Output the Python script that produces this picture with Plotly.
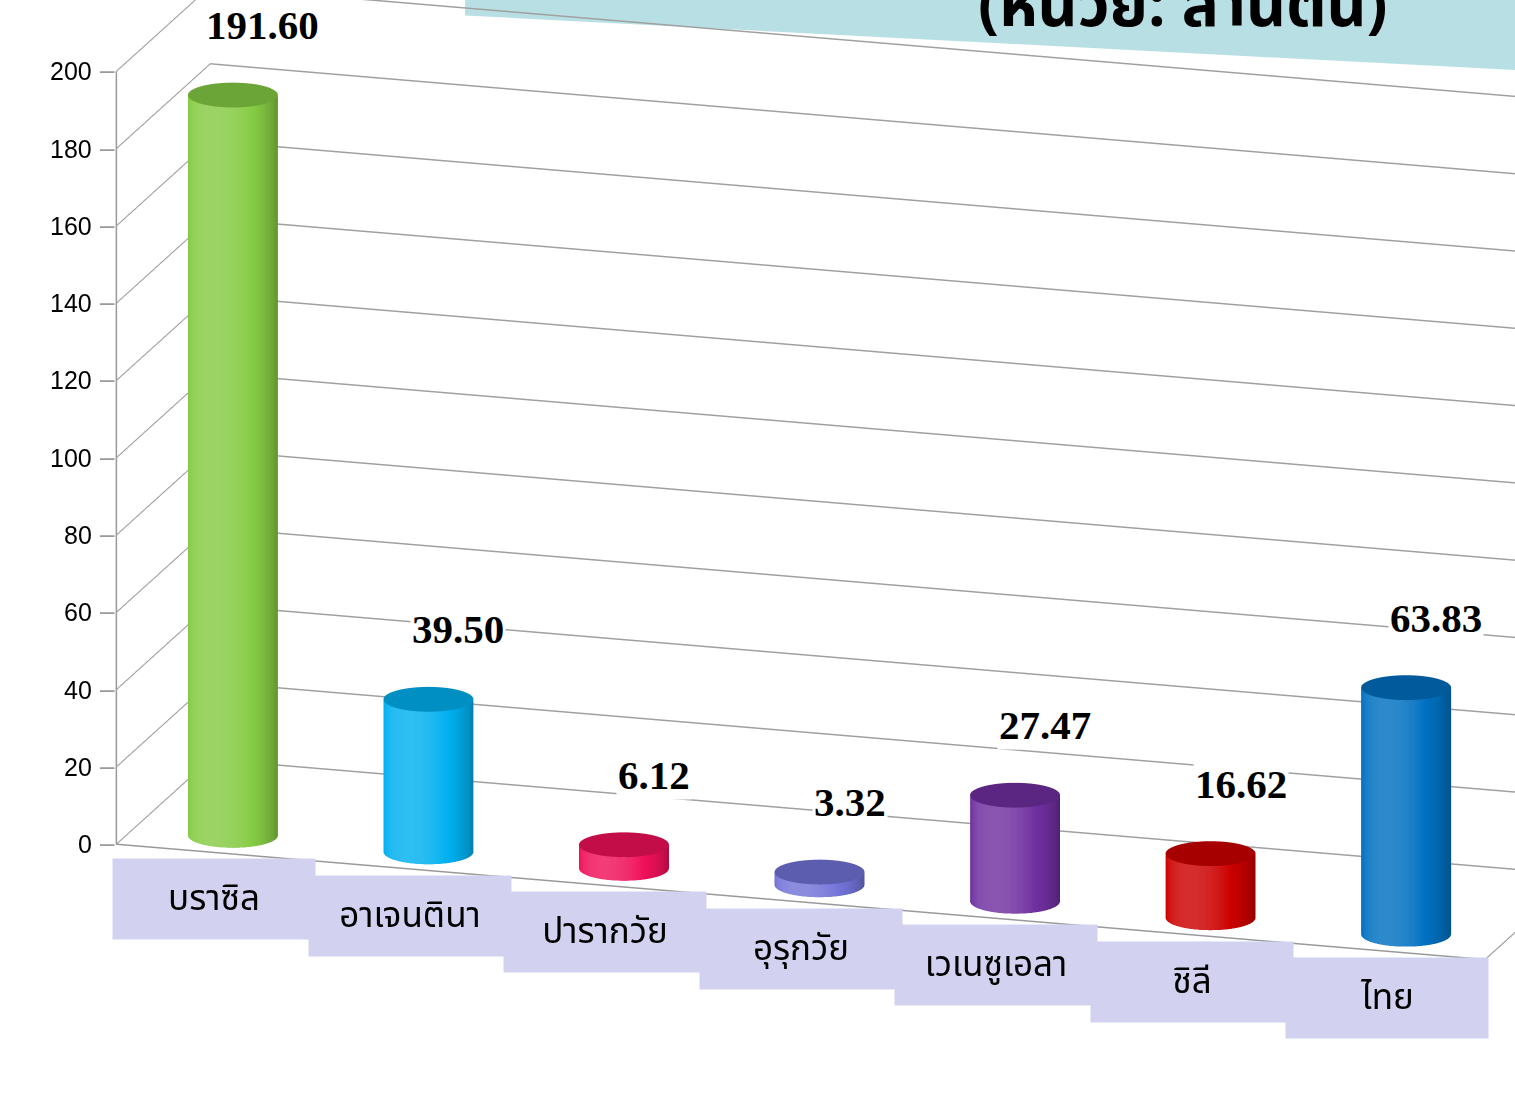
import numpy as np
import plotly.graph_objects as go

categories = ["บราซิล", "อาเจนตินา", "ปารากวัย", "อุรุกวัย", "เวเนซูเอลา", "ชิลี", "ไทย"]
values = [191.60, 39.50, 6.12, 3.32, 27.47, 16.62, 63.83]
value_labels = ["191.60", "39.50", "6.12", "3.32", "27.47", "16.62", "63.83"]
colors = ["#86cb44", "#00b0f0", "#f0105a", "#7373d8", "#7030a0", "#cc0000", "#0070c0"]
z_ticks = list(range(0, 201, 20))
title_text = "(หน่วย: ล้านตัน)"

THAI = "Noto Sans Thai, Tahoma, DejaVu Sans, Noto Sans, sans-serif"

AX, AY, AZ = 2.595, 0.583, 1.458
XR = [-0.5, 6.5]
YR = [-0.5, 0.5]
R = 0.22
RY = R * (AX / (XR[1] - XR[0])) / (AY / (YR[1] - YR[0]))
BAR_Y = -0.3


def hex_rgb(h):
    h = h.lstrip("#")
    return np.array([int(h[k:k + 2], 16) for k in (0, 2, 4)], dtype=float)


def shade(c, f):
    rgb = hex_rgb(c)
    if f <= 1:
        out = rgb * f
    else:
        out = rgb + (255 - rgb) * (f - 1)
    out = np.clip(out, 0, 255).astype(int)
    return f"rgb({out[0]},{out[1]},{out[2]})"


fig = go.Figure()
theta = np.linspace(0, 2 * np.pi, 90)
flat = dict(ambient=1.0, diffuse=0.0, specular=0.0, roughness=1.0, fresnel=0.0)
TH_HI = np.deg2rad(-100)
for i, (v, c) in enumerate(zip(values, colors)):
    cs = [[0, shade(c, 0.55)], [0.45, shade(c, 0.78)], [0.8, shade(c, 1.0)], [1, shade(c, 1.18)]]
    X = np.vstack([i + R * np.cos(theta)] * 2)
    Y = np.vstack([BAR_Y + RY * np.sin(theta)] * 2)
    Z = np.vstack([np.zeros_like(theta), np.full_like(theta, v)])
    b = (np.cos(theta - TH_HI) + 1) / 2
    S = np.vstack([b, b])
    fig.add_trace(go.Surface(x=X, y=Y, z=Z, surfacecolor=S, colorscale=cs, cmin=0, cmax=1,
                             showscale=False, lighting=flat, hoverinfo="skip"))
    rr = np.array([0, 1.0])
    Xc = i + np.outer(rr, R * np.cos(theta))
    Yc = BAR_Y + np.outer(rr, RY * np.sin(theta))
    Zc = np.full_like(Xc, v)
    fig.add_trace(go.Surface(x=Xc, y=Yc, z=Zc, surfacecolor=np.full_like(Zc, 0.5), colorscale=cs,
                             cmin=0, cmax=1, showscale=False, lighting=flat, hoverinfo="skip"))

ann = []
for t in z_ticks:
    ann.append(dict(x=XR[0], y=YR[0], z=t, text=str(t), showarrow=False,
                    font=dict(family="Liberation Sans, Arial, sans-serif", size=25, color="black"),
                    xanchor="right", yanchor="middle", xshift=-22))
    ann.append(dict(x=XR[0], y=YR[0], z=t, text="–", showarrow=False,
                    font=dict(family="Liberation Sans, Arial, sans-serif", size=26, color="#999999"),
                    xanchor="right", yanchor="middle", xshift=1, yshift=1))
for i, (v, lab) in enumerate(zip(values, value_labels)):
    ann.append(dict(x=i, y=BAR_Y, z=v, text=f"<b>{lab}</b>", showarrow=False,
                    font=dict(family="Liberation Serif, Times New Roman, serif", size=41, color="black"),
                    bgcolor="white", xshift=30, yshift=70, xanchor="center", yanchor="middle"))
for i, cat in enumerate(categories):
    ann.append(dict(x=i, y=YR[0], z=0, text=cat, showarrow=False,
                    font=dict(family=THAI, size=35, color="black"),
                    bgcolor="#d2d2f0", width=200, height=78, xanchor="center", yanchor="top",
                    yshift=-6))

CEN = dict(x=-0.171, y=0.0, z=-0.1624)
EYE0 = (0.511, -1.673, 0.502)

fig.update_layout(
    width=1515, height=1103,
    margin=dict(l=0, r=0, t=0, b=0),
    paper_bgcolor="white",
    showlegend=False,
    shapes=[dict(type="path", xref="paper", yref="paper",
                 path="M 0.307,1.0 L 1.0,1.0 L 1.0,0.9365 L 0.307,0.986 Z",
                 fillcolor="#b8e0e4", line=dict(width=0), layer="below")],
    annotations=[dict(xref="paper", yref="paper", x=0.9175, y=1.0, xanchor="right", yanchor="bottom",
                      yshift=-56, text=f"<b>{title_text}</b>", showarrow=False,
                      font=dict(family=THAI, size=62, color="black"))],
    scene=dict(
        domain=dict(x=[0, 1], y=[0, 1]),
        xaxis=dict(range=XR, showgrid=False, showticklabels=False, title="",
                   showbackground=False, showline=True, linecolor="#999", linewidth=3,
                   zeroline=False, showspikes=False, ticks=""),
        yaxis=dict(range=YR, showgrid=False, showticklabels=False, title="",
                   showbackground=False, showline=True, linecolor="#999", linewidth=3,
                   zeroline=False, showspikes=False, ticks=""),
        zaxis=dict(range=[0, 200], tickvals=z_ticks, showgrid=True, gridcolor="#a0a0a0", gridwidth=3,
                   showticklabels=False, title="", showbackground=False, showline=True,
                   linecolor="#999", linewidth=3, zeroline=False, showspikes=False, ticks=""),
        aspectmode="manual", aspectratio=dict(x=AX, y=AY, z=AZ),
        camera=dict(eye=dict(x=EYE0[0] + CEN["x"], y=EYE0[1] + CEN["y"], z=EYE0[2] + CEN["z"]),
                    center=CEN, up=dict(x=0, y=0, z=1), projection=dict(type="orthographic")),
        annotations=ann,
        bgcolor="rgba(0,0,0,0)",
    ),
)

fig.write_html("out.html", post_script="document.body.style.margin='0';",
               config={"displayModeBar": False})
